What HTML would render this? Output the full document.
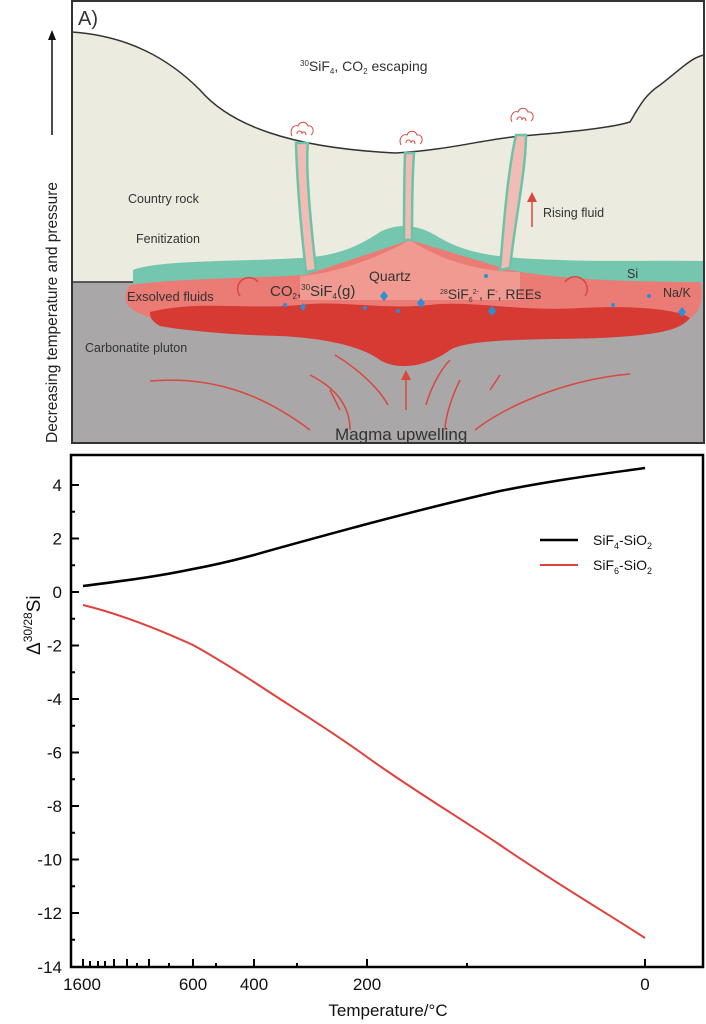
<!DOCTYPE html>
<html><head><meta charset="utf-8"><style>
html,body{margin:0;padding:0;background:#fff;}
svg{display:block;font-family:"Liberation Sans",Arial,sans-serif;}
</style></head><body>
<svg width="706" height="1024" viewBox="0 0 706 1024" xmlns="http://www.w3.org/2000/svg">
<rect x="72" y="1" width="632" height="442" fill="#fff"/>
<path d="M72 32 C130 36 170 60 200 90 C230 125 290 148 396 153 C450 150 490 138 522 136 C570 132 610 128 630 122 C640 105 645 95 660 85 C680 70 690 58 704 55 L704 285 L72 285 Z" fill="#ebebdf" stroke="#333" stroke-width="1.5"/>
<path d="M72 282 L704 282 L704 443 L72 443 Z" fill="#a9a7a8"/>
<line x1="72" y1="282" x2="135" y2="282" stroke="#333" stroke-width="1.5"/>
<path d="M133 270 C160 260 230 262 300 258 C340 256 360 245 380 232 C400 222 420 225 440 238 C470 255 500 258 560 260 C610 262 660 260 704 261 L704 282 L640 285 L300 292 C200 292 150 292 133 285 Z" fill="#75c6ae"/>
<path d="M130 285 C180 278 260 278 305 275 L410 240 L510 270 C560 280 640 282 700 282 C704 300 700 312 690 318 L160 320 C125 312 120 300 130 285 Z" fill="#ea7b75"/>
<path d="M300 276 C330 274 370 262 410 240 C440 260 480 272 520 272 L520 300 L300 300 Z" fill="#f09a92"/>
<path d="M150 312 C200 300 240 310 300 305 C340 300 380 310 430 305 C470 300 520 312 580 308 C640 305 680 310 690 318 C680 330 660 335 600 338 C540 340 470 338 450 350 C430 365 400 372 380 360 C360 345 320 338 280 336 C230 335 180 330 160 326 C150 320 150 316 150 312 Z" fill="#d63a33"/>
<g fill="#f2bcb6" stroke="#6cc3a8" stroke-width="2.5">
<path d="M296 143 L308 143 C306 160 308 200 316 270 L306 272 C300 220 297 180 296 143 Z"/>
<path d="M405 153 L414 153 C412 180 412 210 412 240 L404 240 C404 210 404 180 405 153 Z"/>
<path d="M516 135 L526 135 C526 170 515 220 510 268 L500 270 C504 220 508 170 516 135 Z"/>
</g>
<g fill="none" stroke="#d9473f" stroke-width="1">
<path d="M292 136 c-3 -6 2 -12 6 -10 c2 -5 8 -5 10 0 c5 -1 7 6 3 9 M297 134 c0 -4 5 -4 5 0 c0 -3 4 -3 4 1"/>
<path d="M401 145 c-3 -6 2 -12 6 -10 c2 -5 8 -5 10 0 c5 -1 7 6 3 9 M406 143 c0 -4 5 -4 5 0 c0 -3 4 -3 4 1"/>
<path d="M512 122 c-3 -6 2 -12 6 -10 c2 -5 8 -5 10 0 c5 -1 7 6 3 9 M517 120 c0 -4 5 -4 5 0 c0 -3 4 -3 4 1"/>
</g>
<g fill="#2a8fd6">
<path d="M384 291 l4 5 l-4 5 l-4 -5z"/><path d="M421 298 l4 5 l-4 5 l-4 -5z"/><path d="M303 303 l3 4 l-3 4 l-3 -4z"/>
<path d="M492 306 l4 5 l-4 5 l-4 -5z"/><path d="M682 307 l4 5 l-4 5 l-4 -5z"/>
<circle cx="285" cy="305" r="2"/><circle cx="365" cy="308" r="2"/><circle cx="398" cy="311" r="2"/><circle cx="486" cy="276" r="2"/><circle cx="613" cy="305" r="2"/><circle cx="649" cy="296" r="2"/>
</g>
<g fill="none" stroke="#d9473f" stroke-width="1.5">
<path d="M150 381 C220 375 270 400 310 430"/><path d="M630 374 C560 380 500 410 475 430"/>
<path d="M335 355 C360 370 380 390 388 405"/><path d="M310 375 C340 390 350 410 350 430"/>
<path d="M450 360 C440 370 430 390 426 405"/><path d="M460 380 C450 400 445 420 445 430"/>
<path d="M330 390 L340 410"/><path d="M500 375 L490 390"/>
<path d="M406 410 L406 378"/><path d="M532 227 L532 200"/>
<path d="M258 282 A11 11 0 1 0 240 296"/><path d="M565 282 A11 11 0 1 1 585 296"/>
</g>
<path d="M401 380 L406 370 L411 380Z" fill="#d9473f"/><path d="M527 202 L532 192 L537 202Z" fill="#d9473f"/>
<rect x="72" y="1" width="632" height="442" fill="none" stroke="#333" stroke-width="2"/>
<g fill="#333" font-size="12.5">
<text x="78" y="25" font-size="20">A)</text>
<text x="300" y="71" font-size="14"><tspan font-size="8" dy="-5">30</tspan><tspan dy="5">SiF</tspan><tspan font-size="8" dy="3">4</tspan><tspan dy="-3">, CO</tspan><tspan font-size="8" dy="3">2</tspan><tspan dy="-3"> escaping</tspan></text>
<text x="128" y="203">Country rock</text>
<text x="543" y="217">Rising fluid</text>
<text x="136" y="243">Fenitization</text>
<text x="127" y="301" font-size="13">Exsolved fluids</text>
<text x="270" y="296" font-size="15">CO<tspan font-size="8" dy="3">2</tspan><tspan dy="-3">,</tspan><tspan font-size="8" dy="-6">30</tspan><tspan dy="6">SiF</tspan><tspan font-size="8" dy="3">4</tspan><tspan dy="-3">(g)</tspan></text>
<text x="369" y="281" font-size="14">Quartz</text>
<text x="440" y="299" font-size="14"><tspan font-size="7" dy="-5">28</tspan><tspan dy="5">SiF</tspan><tspan font-size="7" dy="3">6</tspan><tspan font-size="7" dy="-8">2-</tspan><tspan dy="5">, F</tspan><tspan font-size="7" dy="-5">-</tspan><tspan dy="5">, REEs</tspan></text>
<text x="627" y="278">Si</text>
<text x="663" y="297">Na/K</text>
<text x="85" y="352">Carbonatite pluton</text>
<text x="335" y="440" font-size="17">Magma upwelling</text>
</g>
<line x1="52" y1="135" x2="52" y2="38" stroke="#111" stroke-width="1.5"/>
<path d="M48 40 L52 30 L56 40Z" fill="#111"/>
<text transform="translate(57,443) rotate(-90)" font-size="15.5" fill="#222">Decreasing temperature and pressure</text>

<rect x="71" y="455" width="632" height="512" fill="none" stroke="#000" stroke-width="2.5"/>
<g stroke="#000" stroke-width="2">
<line x1="71" y1="485" x2="79" y2="485"/><line x1="71" y1="538.5" x2="79" y2="538.5"/><line x1="71" y1="592" x2="79" y2="592"/><line x1="71" y1="645.5" x2="79" y2="645.5"/><line x1="71" y1="699" x2="79" y2="699"/><line x1="71" y1="752.5" x2="79" y2="752.5"/><line x1="71" y1="806" x2="79" y2="806"/><line x1="71" y1="859.5" x2="79" y2="859.5"/><line x1="71" y1="913" x2="79" y2="913"/>
<line x1="71" y1="511.75" x2="75" y2="511.75"/><line x1="71" y1="565.25" x2="75" y2="565.25"/><line x1="71" y1="618.75" x2="75" y2="618.75"/><line x1="71" y1="672.25" x2="75" y2="672.25"/><line x1="71" y1="725.75" x2="75" y2="725.75"/><line x1="71" y1="779.25" x2="75" y2="779.25"/><line x1="71" y1="832.75" x2="75" y2="832.75"/><line x1="71" y1="886.25" x2="75" y2="886.25"/><line x1="71" y1="939.75" x2="75" y2="939.75"/>
<line x1="83" y1="967" x2="83" y2="959"/><line x1="193" y1="967" x2="193" y2="959"/><line x1="254" y1="967" x2="254" y2="959"/><line x1="367" y1="967" x2="367" y2="959"/><line x1="645" y1="967" x2="645" y2="959"/><line x1="114" y1="967" x2="114" y2="959"/><line x1="127" y1="967" x2="127" y2="959"/><line x1="149" y1="967" x2="149" y2="959"/>
<line x1="90" y1="967" x2="90" y2="961"/><line x1="98" y1="967" x2="98" y2="961"/><line x1="105" y1="967" x2="105" y2="961"/><line x1="137" y1="967" x2="137" y2="963"/><line x1="169" y1="967" x2="169" y2="963"/><line x1="216" y1="967" x2="216" y2="963"/><line x1="297" y1="967" x2="297" y2="963"/><line x1="467" y1="967" x2="467" y2="963"/>
</g>
<g font-size="17" fill="#111" text-anchor="end">
<text x="62" y="491">4</text><text x="62" y="544.5">2</text><text x="62" y="598">0</text><text x="62" y="651.5">-2</text><text x="62" y="705">-4</text><text x="62" y="758.5">-6</text><text x="62" y="812">-8</text><text x="62" y="865.5">-10</text><text x="62" y="919">-12</text><text x="62" y="973">-14</text>
</g>
<g font-size="17" fill="#111" text-anchor="middle">
<text x="82" y="990">1600</text><text x="193" y="990">600</text><text x="254" y="990">400</text><text x="367" y="990">200</text><text x="645" y="990">0</text>
<text x="388" y="1016">Temperature/°C</text>
</g>
<text transform="translate(40,655) rotate(-90)" font-size="19" fill="#111">Δ<tspan font-size="12" dy="-8">30/28</tspan><tspan dy="8">Si</tspan></text>
<path d="M83 586 C130 580 160 576 193 569 C220 564 235 560 254 555 C300 542 330 534 367 524 C420 510 460 500 500 491 C560 479 610 473 645 468" fill="none" stroke="#000" stroke-width="2.5"/>
<path d="M83 605 C120 614 160 630 193 645 C220 660 235 670 254 682 C290 706 330 730 367 757 C410 788 460 818 500 845 C560 886 610 915 645 938" fill="none" stroke="#e0413c" stroke-width="2"/>
<line x1="540" y1="540" x2="578" y2="540" stroke="#000" stroke-width="2.5"/>
<line x1="540" y1="565" x2="578" y2="565" stroke="#e0413c" stroke-width="2"/>
<g font-size="14" fill="#111">
<text x="593" y="545">SiF<tspan font-size="9" dy="4">4</tspan><tspan dy="-4">-SiO</tspan><tspan font-size="9" dy="4">2</tspan></text>
<text x="593" y="570">SiF<tspan font-size="9" dy="4">6</tspan><tspan dy="-4">-SiO</tspan><tspan font-size="9" dy="4">2</tspan></text>
</g>
</svg>
</body></html>
